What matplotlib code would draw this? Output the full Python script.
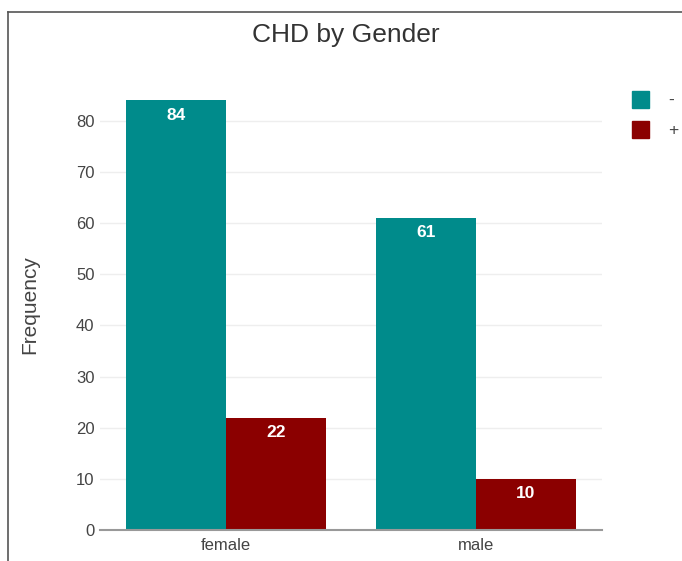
import matplotlib.pyplot as plt
import numpy as np
from matplotlib.lines import Line2D
from matplotlib.patches import Rectangle

plt.rcParams['font.family'] = ['Liberation Sans', 'DejaVu Sans']

genders = ['female', 'male']
chd_neg = [84, 61]
chd_pos = [22, 10]
series_labels = ['-', '+']
colors = ['#008b8b', '#8b0000']

y_ticks = [0, 10, 20, 30, 40, 50, 60, 70, 80]

fig = plt.figure(figsize=(6.82, 5.61), dpi=100)
ax = fig.add_axes([100 / 682, 31 / 561, 502 / 682, 450 / 561])

x = np.arange(len(genders))
w = 0.4
bars_neg = ax.bar(x - w / 2, chd_neg, w, color=colors[0], zorder=3)
bars_pos = ax.bar(x + w / 2, chd_pos, w, color=colors[1], zorder=3)

for bars, vals in [(bars_neg, chd_neg), (bars_pos, chd_pos)]:
    for b, v in zip(bars, vals):
        ax.text(b.get_x() + b.get_width() / 2, v - 1.4, str(v),
                ha='center', va='top', color='white', fontsize=12.5,
                fontweight='bold', zorder=4)

ax.set_xlim(-0.504, 1.504)
ax.set_ylim(0, 88)
ax.set_yticks(y_ticks)
ax.set_xticks(x)
ax.set_xticklabels(genders)
ax.tick_params(axis='both', length=0, labelsize=12, colors='#444444')
ax.tick_params(axis='y', pad=4)
ax.tick_params(axis='x', pad=6)
ax.grid(axis='y', color='#eeeeee', linewidth=1, zorder=0)
for s in ['top', 'right', 'left']:
    ax.spines[s].set_visible(False)
ax.spines['bottom'].set_color('#999999')
ax.spines['bottom'].set_linewidth(1.5)
ax.spines['bottom'].set_zorder(5)

ax.set_ylabel('Frequency', fontsize=15, color='#444444', labelpad=26)
fig.text(346 / 682, 1 - 35 / 561, 'CHD by Gender', ha='center', va='center',
         fontsize=19, color='#333333')

# legend squares drawn in figure coordinates
for i, (lab, c) in enumerate(zip(series_labels, colors)):
    yc = 1 - (100 + 30 * i) / 561
    fig.add_artist(Rectangle((632 / 682, yc - 8 / 561), 17 / 682, 17 / 561,
                             transform=fig.transFigure, color=c))
    fig.text(668 / 682, yc, lab, ha='left', va='center', fontsize=12.5,
             color='#444444')

# screenshot frame
fig.add_artist(Line2D([8 / 682, 1], [1 - 12 / 561, 1 - 12 / 561],
                      transform=fig.transFigure, color='#555555', linewidth=1.2))
fig.add_artist(Line2D([8 / 682, 8 / 682], [0, 1 - 12 / 561],
                      transform=fig.transFigure, color='#555555', linewidth=1.2))

fig.savefig('out.png', dpi=100)
